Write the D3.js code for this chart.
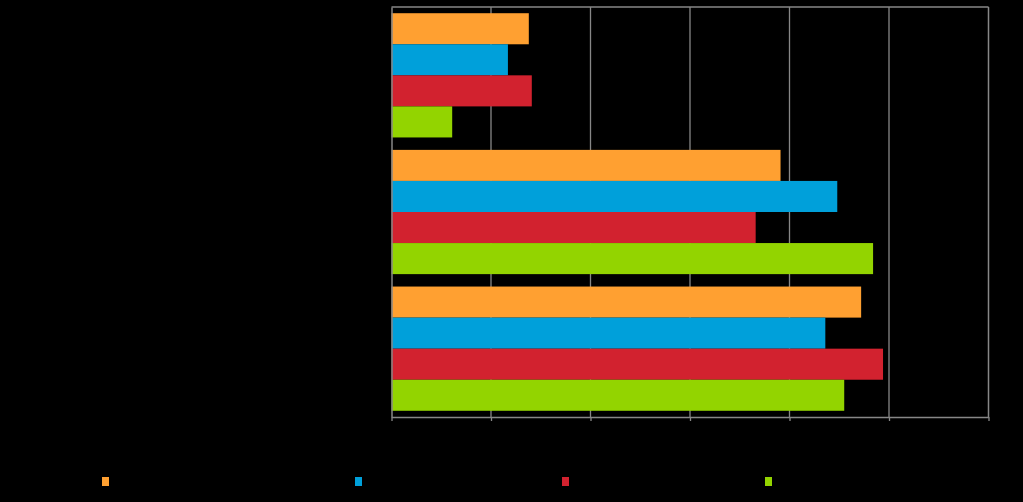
<!DOCTYPE html>
<html>
<head>
<meta charset="utf-8">
<script src="https://cdn.jsdelivr.net/npm/d3@7"></script>
<style>
  html, body { margin: 0; padding: 0; background: #000; }
  svg { display: block; }
</style>
</head>
<body>
<svg id="chart" width="1023" height="502"></svg>
<script>
// Data
const categories = ["A", "B", "C"];
const seriesNames = ["Series 1", "Series 2", "Series 3", "Series 4"];
const series1 = [13.8, 39.1, 47.2];
const series2 = [11.7, 44.8, 43.6];
const series3 = [14.1, 36.6, 49.4];
const series4 = [6.1, 48.4, 45.5];
const xTicks = [0, 10, 20, 30, 40, 50, 60];

const allSeries = [series1, series2, series3, series4];
const colors = ["#FFA031", "#00A0DA", "#D2222F", "#93D400"];

const svg = d3.select("#chart");
const W = 1023, H = 502;
svg.append("rect").attr("width", W).attr("height", H).attr("fill", "#000");

const plot = { left: 391.5, right: 988.5, top: 7, bottom: 417 };

const x = d3.scaleLinear().domain([0, 60]).range([plot.left, plot.right]);
const y0 = d3.scaleBand().domain(categories).range([plot.top, plot.bottom]).padding(0);
const y1 = d3.scaleBand().domain(d3.range(seriesNames.length))
  .range([0, y0.bandwidth()]).paddingOuter(0.2).paddingInner(0);

const gridColor = "#878787";

// gridlines
svg.append("g").selectAll("line").data(xTicks.slice(1, -1)).join("line")
  .attr("x1", d => x(d)).attr("x2", d => x(d))
  .attr("y1", plot.top).attr("y2", plot.bottom)
  .attr("stroke", gridColor).attr("stroke-width", 1.3);

// bars
const rows = categories.map((c, i) => ({ cat: c, vals: allSeries.map(s => s[i]) }));
const g = svg.append("g").selectAll("g").data(rows).join("g")
  .attr("transform", d => `translate(0,${y0(d.cat)})`);
g.selectAll("rect").data(d => d.vals.map((v, k) => ({ v, k }))).join("rect")
  .attr("x", x(0))
  .attr("y", d => y1(d.k))
  .attr("width", d => x(d.v) - x(0))
  .attr("height", y1.bandwidth())
  .attr("fill", d => colors[d.k]);

// frame
svg.append("line").attr("x1", plot.left).attr("x2", plot.right)
  .attr("y1", plot.top).attr("y2", plot.top).attr("stroke", gridColor).attr("stroke-width", 1.5);
svg.append("line").attr("x1", plot.right).attr("x2", plot.right)
  .attr("y1", plot.top).attr("y2", plot.bottom).attr("stroke", gridColor).attr("stroke-width", 1.5);

// x axis
const xAxis = svg.append("g").attr("transform", `translate(0,${plot.bottom})`)
  .call(d3.axisBottom(x).tickValues(xTicks).tickSize(4).tickSizeOuter(0).tickPadding(6));
xAxis.select(".domain").attr("stroke", gridColor).attr("stroke-width", 1.5);
xAxis.selectAll(".tick line").attr("stroke", gridColor).attr("stroke-width", 1.3);
xAxis.selectAll("text").attr("fill", "#000").attr("font-family", "Arial, Liberation Sans, sans-serif").attr("font-size", 13);

// y axis
const yAxis = svg.append("g").attr("transform", `translate(${plot.left},0)`)
  .call(d3.axisLeft(y0).tickSize(0).tickPadding(8));
yAxis.select(".domain").attr("stroke", gridColor).attr("stroke-width", 1.5);
yAxis.selectAll("text").attr("fill", "#000").attr("font-family", "Arial, Liberation Sans, sans-serif").attr("font-size", 13);

// legend
const legendX = [102, 355, 562, 765];
const lg = svg.append("g").selectAll("g").data(seriesNames).join("g")
  .attr("transform", (d, i) => `translate(${legendX[i]},477)`);
lg.append("rect").attr("width", 7).attr("height", 9).attr("fill", (d, i) => colors[i]);
lg.append("text").attr("x", 12).attr("y", 8).text(d => d)
  .attr("fill", "#000").attr("font-family", "Arial, Liberation Sans, sans-serif").attr("font-size", 13);
</script>
</body>
</html>
